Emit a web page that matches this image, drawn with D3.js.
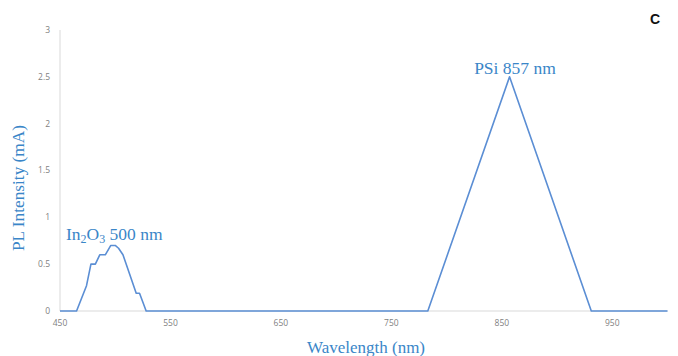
<!DOCTYPE html>
<html><head><meta charset="utf-8">
<script src="https://cdn.jsdelivr.net/npm/d3@7"></script>
<style>body{margin:0;background:#fff}svg{display:block}</style>
</head><body>
<svg id="c" width="678" height="356"></svg>
<script>
const wavelength = [450, 465, 474, 478, 482, 486, 491, 496, 500, 503, 507, 519, 522, 528, 783, 857, 931, 1000];
const intensity  = [0, 0, 0.27, 0.5, 0.5, 0.6, 0.6, 0.7, 0.7, 0.67, 0.6, 0.19, 0.19, 0, 0, 2.5, 0, 0];
const xTicks = [450, 550, 650, 750, 850, 950];
const yTicks = [0, 0.5, 1, 1.5, 2, 2.5, 3];
const yTickLabels = ["0", "0.5", "1", "1.5", "2", "2.5", "3"];

const svg = d3.select("#c");
const x = d3.scaleLinear().domain([450, 1000]).range([60, 667.5]);
const y = d3.scaleLinear().domain([0, 3]).range([311, 30]);
const blue = "#3a86c8";

svg.append("line").attr("x1", x(450)).attr("x2", x(450)).attr("y1", y(0)).attr("y2", y(3))
  .attr("stroke", "#d9d9d9").attr("stroke-width", 1);
svg.append("line").attr("x1", x(450)).attr("x2", x(1000)).attr("y1", y(0)).attr("y2", y(0))
  .attr("stroke", "#d9d9d9").attr("stroke-width", 1);

svg.append("g").selectAll("text").data(yTicks).join("text")
  .attr("x", 50).attr("y", d => y(d)).attr("dy", "0.35em")
  .attr("text-anchor", "end").attr("font-family", "Open Sans, Liberation Sans, sans-serif")
  .attr("font-size", 8.5).attr("fill", "#7f7f7f").text((d, i) => yTickLabels[i]);
svg.append("g").selectAll("text").data(xTicks).join("text")
  .attr("x", d => x(d)).attr("y", 326).attr("text-anchor", "middle")
  .attr("font-family", "Open Sans, Liberation Sans, sans-serif")
  .attr("font-size", 8.5).attr("fill", "#7f7f7f").text(d => d);

const line = d3.line().x((d, i) => x(wavelength[i])).y(d => y(d));
svg.append("path").datum(intensity).attr("d", line)
  .attr("fill", "none").attr("stroke", "#5b8ed4").attr("stroke-width", 1.6)
  .attr("stroke-linejoin", "round");

svg.append("text").attr("transform", "translate(24,188) rotate(-90)")
  .attr("text-anchor", "middle").attr("font-family", "Liberation Serif, serif")
  .attr("font-size", 17.3).attr("fill", blue).text("PL Intensity (mA)");
svg.append("text").attr("x", 366).attr("y", 353)
  .attr("text-anchor", "middle").attr("font-family", "Liberation Serif, serif")
  .attr("font-size", 17).attr("fill", blue).text("Wavelength (nm)");

svg.append("text").attr("x", 515).attr("y", 74).attr("text-anchor", "middle")
  .attr("font-family", "Liberation Serif, serif").attr("font-size", 17.5).attr("fill", blue)
  .text("PSi 857 nm");
const t = svg.append("text").attr("x", 66).attr("y", 240)
  .attr("font-family", "Liberation Serif, serif").attr("font-size", 17.5).attr("fill", blue);
t.append("tspan").text("In");
t.append("tspan").attr("font-size", 12).attr("dy", 3).text("2");
t.append("tspan").attr("dy", -3).text("O");
t.append("tspan").attr("font-size", 12).attr("dy", 3).text("3");
t.append("tspan").attr("dy", -3).text(" 500 nm");

svg.append("text").attr("x", 655).attr("y", 24).attr("text-anchor", "middle")
  .attr("font-family", "Liberation Sans, Arial, sans-serif").attr("font-weight", "bold")
  .attr("font-size", 14).attr("fill", "#111").text("C");
</script>
</body></html>
